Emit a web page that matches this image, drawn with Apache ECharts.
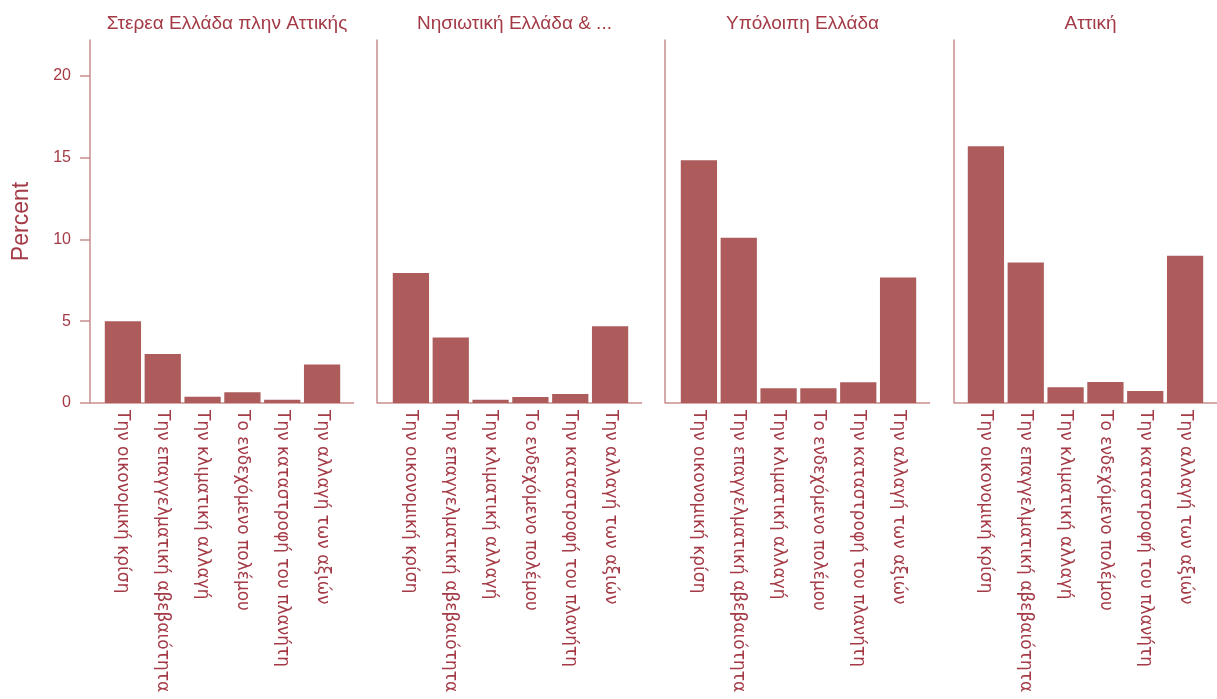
<!DOCTYPE html>
<html>
<head>
<meta charset="utf-8">
<script src="https://cdn.jsdelivr.net/npm/echarts@6/dist/echarts.min.js"></script>
<style>html,body{margin:0;padding:0;background:#fff;}#c{width:1217px;height:699px;}</style>
</head>
<body>
<div id="c"></div>
<script>
const categories = ['Την οικονομική κρίση','Την επαγγελματική αβεβαιότητα','Την κλιματική αλλαγή','Το ενδεχόμενο πολέμου','Την καταστροφή του πλανήτη','Την αλλαγή των αξιών'];
const regions = ['Στερεα Ελλάδα πλην Αττικής','Νησιωτική Ελλάδα & ...','Υπόλοιπη Ελλάδα','Αττική'];
const stereaValues = [5.0, 3.0, 0.38, 0.65, 0.2, 2.35];
const nisiotikiValues = [7.95, 4.0, 0.2, 0.37, 0.55, 4.7];
const ypoloipiValues = [14.85, 10.1, 0.9, 0.9, 1.27, 7.67];
const attikiValues = [15.7, 8.6, 0.96, 1.28, 0.73, 9.0];
const yTicks = [0, 5, 10, 15, 20];
const yName = 'Percent';

const seriesValues = [stereaValues, nisiotikiValues, ypoloipiValues, attikiValues];

const barColor = '#ad5b5b';
const textColor = '#a33a46';
const axisColor = '#c98e8e';

const gridLefts = [103, 391, 679, 966];
const gridWidth = 239;
const axisOffsets = [13, 14, 14, 12];
const gridTop = 40, gridHeight = 363;

const chart = echarts.init(document.getElementById('c'));
const grids = [], xAxes = [], yAxes = [], series = [], titles = [];
regions.forEach((r, i) => {
  grids.push({left: gridLefts[i], top: gridTop, width: gridWidth, height: gridHeight});
  titles.push({
    text: r, left: gridLefts[i] - axisOffsets[i] + (gridWidth + axisOffsets[i] + 12) / 2, top: 9, textAlign: 'center',
    textStyle: {color: textColor, fontSize: 19, fontWeight: 'normal', fontFamily: 'Liberation Sans'}
  });
  xAxes.push({
    type: 'category', gridIndex: i, data: categories, boundaryGap: true,
    axisLine: {show: false}, axisTick: {show: false},
    axisLabel: {rotate: -90, margin: 7, color: textColor, fontSize: 17, fontFamily: 'DejaVu Sans', interval: 0}
  });
  yAxes.push({
    type: 'value', gridIndex: i, min: 0, max: 22.2, interval: 5, offset: axisOffsets[i],
    name: i === 0 ? yName : '', nameLocation: 'middle', nameGap: 57,
    nameTextStyle: {color: textColor, fontSize: 23, fontFamily: 'Liberation Sans'},
    splitLine: {show: false},
    axisLine: {show: true, lineStyle: {color: axisColor, width: 1.5}},
    axisTick: {show: i === 0, length: 10, customValues: yTicks, lineStyle: {color: axisColor, width: 1.5}},
    axisLabel: {show: i === 0, customValues: yTicks, margin: 19, color: textColor, fontSize: 16, fontFamily: 'Liberation Sans'}
  });
  series.push({
    type: 'bar', xAxisIndex: i, yAxisIndex: i, data: seriesValues[i],
    barCategoryGap: '9%', itemStyle: {color: barColor}, silent: true, animation: false
  });
});
chart.setOption({animation: false, title: titles, grid: grids, xAxis: xAxes, yAxis: yAxes, series: series});

const graphics = [];
regions.forEach((r, i) => {
  const y0 = chart.convertToPixel({yAxisIndex: i}, 0);
  const x1 = gridLefts[i] - axisOffsets[i];
  const x2 = gridLefts[i] + gridWidth + 12;
  graphics.push({type: 'line', shape: {x1: x1, y1: y0, x2: x2, y2: y0}, style: {stroke: axisColor, lineWidth: 1.5}, silent: true});
});
chart.setOption({graphic: graphics});
</script>
</body>
</html>
